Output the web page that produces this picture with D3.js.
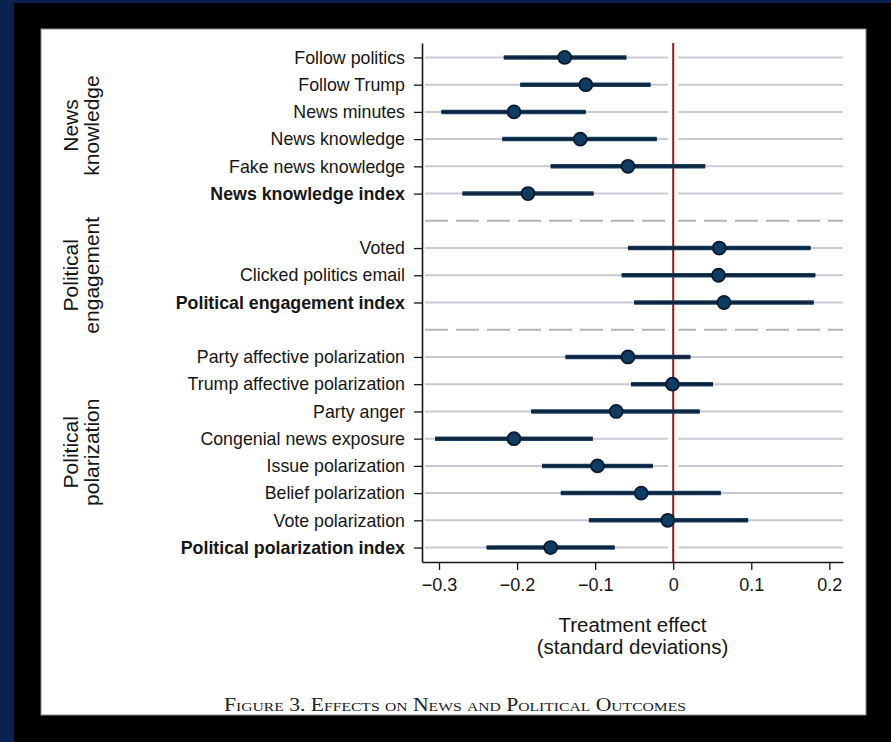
<!DOCTYPE html>
<html>
<head>
<meta charset="utf-8">
<script src="https://cdn.jsdelivr.net/npm/d3@7/dist/d3.min.js"></script>
<style>
  html, body { margin: 0; padding: 0; background: #0b2150; }
  svg { display: block; }
</style>
</head>
<body>
<svg id="chart" width="891" height="742"></svg>
<script>
// Outcome rows, top to bottom; "sep" entries are the dashed group dividers
const rowKeys = [
  "Follow politics", "Follow Trump", "News minutes", "News knowledge",
  "Fake news knowledge", "News knowledge index", "sep1",
  "Voted", "Clicked politics email", "Political engagement index", "sep2",
  "Party affective polarization", "Trump affective polarization", "Party anger",
  "Congenial news exposure", "Issue polarization", "Belief polarization",
  "Vote polarization", "Political polarization index"
];
const outcomes = rowKeys.filter(k => !k.startsWith("sep"));
const indexRows = ["News knowledge index", "Political engagement index", "Political polarization index"];

// Point estimates and 95% confidence bounds (standard deviations)
const estimates = [-0.139, -0.112, -0.204, -0.119, -0.058, -0.186,
                   0.059, 0.058, 0.065,
                   -0.058, -0.001, -0.073, -0.204, -0.097, -0.041, -0.007, -0.157];
const lower = [-0.217, -0.196, -0.297, -0.219, -0.157, -0.270,
               -0.058, -0.066, -0.050,
               -0.138, -0.054, -0.182, -0.305, -0.168, -0.144, -0.108, -0.239];
const upper = [-0.060, -0.029, -0.112, -0.021, 0.041, -0.102,
               0.176, 0.182, 0.180,
               0.022, 0.051, 0.034, -0.103, -0.026, 0.061, 0.096, -0.075];

const xTicks = [-0.3, -0.2, -0.1, 0, 0.1, 0.2];
const xTickLabels = ["\u22120.3", "\u22120.2", "\u22120.1", "0", "0.1", "0.2"];

const groups = [
  { lines: ["News", "knowledge"], first: "Follow politics", last: "News knowledge index" },
  { lines: ["Political", "engagement"], first: "Voted", last: "Political engagement index" },
  { lines: ["Political", "polarization"], first: "Party affective polarization", last: "Political polarization index" }
];
const axisTitle = ["Treatment effect", "(standard deviations)"];
const caption = "Figure 3. Effects on News and Political Outcomes";

const rows = outcomes.map((name, i) => ({ name, est: estimates[i], lo: lower[i], hi: upper[i] }));

const svg = d3.select("#chart");
const sans = "'Liberation Sans', Arial, Helvetica, sans-serif";
const ink = "#161616";

// Page frame: black mat with the white figure panel
svg.append("rect").attr("x", 14).attr("y", 3).attr("width", 877).attr("height", 739).attr("fill", "#000");
svg.append("rect").attr("x", 41).attr("y", 29).attr("width", 825).attr("height", 686)
  .attr("fill", "#fff").attr("stroke", "#8a8a8a").attr("stroke-width", 1);

const plotLeft = 422, plotRight = 843, plotTop = 43, plotBottom = 562;

const x = d3.scaleLinear().domain([-0.3218, 0.2175]).range([plotLeft, plotRight]);
const y = d3.scalePoint().domain(rowKeys).range([plotTop, plotBottom]).padding(0.53);

const g = svg.append("g");

// Light horizontal guides for each outcome
g.selectAll("line.grid").data(outcomes).join("line")
  .attr("class", "grid")
  .attr("x1", plotLeft + 3).attr("x2", plotRight)
  .attr("y1", d => y(d)).attr("y2", d => y(d))
  .attr("stroke", "#c9c9d5").attr("stroke-width", 2);

// Dashed dividers between groups
g.selectAll("line.sep").data(rowKeys.filter(k => k.startsWith("sep"))).join("line")
  .attr("class", "sep")
  .attr("x1", plotLeft + 3).attr("x2", plotRight)
  .attr("y1", d => y(d)).attr("y2", d => y(d))
  .attr("stroke", "#b4b4b4").attr("stroke-width", 2)
  .attr("stroke-dasharray", "23,8");

// White clearance around the zero reference line
g.append("line")
  .attr("x1", x(0)).attr("x2", x(0)).attr("y1", plotTop).attr("y2", plotBottom)
  .attr("stroke", "#fff").attr("stroke-width", 10);

// Zero reference line
g.append("line")
  .attr("x1", x(0)).attr("x2", x(0)).attr("y1", plotTop).attr("y2", plotBottom)
  .attr("stroke", "#8e1b1f").attr("stroke-width", 2);

// Confidence intervals
g.selectAll("line.ci").data(rows).join("line")
  .attr("class", "ci")
  .attr("x1", d => x(d.lo)).attr("x2", d => x(d.hi))
  .attr("y1", d => y(d.name)).attr("y2", d => y(d.name))
  .attr("stroke", "#1a4068").attr("stroke-width", 4.5);
g.selectAll("line.cicore").data(rows).join("line")
  .attr("class", "cicore")
  .attr("x1", d => x(d.lo)).attr("x2", d => x(d.hi))
  .attr("y1", d => y(d.name)).attr("y2", d => y(d.name))
  .attr("stroke", "#0e2238").attr("stroke-width", 2.4);

// Point estimates
g.selectAll("circle.pt").data(rows).join("circle")
  .attr("class", "pt")
  .attr("cx", d => x(d.est)).attr("cy", d => y(d.name))
  .attr("r", 6.5)
  .attr("fill", "#0f3c63").attr("stroke", "#081b2e").attr("stroke-width", 1.8);

// Y axis with outcome labels
const yAxis = g.append("g").attr("transform", `translate(${plotLeft},0)`)
  .call(d3.axisLeft(y).tickValues(outcomes).tickSize(8).tickPadding(9).tickSizeOuter(0));
yAxis.select(".domain").attr("stroke", ink).attr("stroke-width", 1.6);
yAxis.selectAll(".tick line").attr("stroke", ink).attr("stroke-width", 1.3);
yAxis.selectAll(".tick text")
  .attr("font-family", sans).attr("font-size", 17.8).attr("fill", ink)
  .attr("font-weight", d => indexRows.includes(d) ? "bold" : "normal");

// X axis
const xAxis = g.append("g").attr("transform", `translate(0,${plotBottom})`)
  .call(d3.axisBottom(x).tickValues(xTicks).tickFormat((d, i) => xTickLabels[i])
    .tickSize(8).tickPadding(8).tickSizeOuter(0));
xAxis.select(".domain").attr("stroke", ink).attr("stroke-width", 1.6);
xAxis.selectAll(".tick line").attr("stroke", ink).attr("stroke-width", 1.3);
xAxis.selectAll(".tick text").attr("font-family", sans).attr("font-size", 18).attr("fill", ink);

// Axis title
const cx = (plotLeft + plotRight) / 2;
svg.append("text").attr("x", cx).attr("y", 632)
  .attr("text-anchor", "middle").attr("font-family", sans).attr("font-size", 20.5).attr("fill", ink)
  .selectAll("tspan").data(axisTitle).join("tspan")
  .attr("x", cx).attr("dy", (d, i) => i === 0 ? 0 : 22).text(d => d);

// Rotated group labels
groups.forEach(gr => {
  const cy = (y(gr.first) + y(gr.last)) / 2;
  const t = svg.append("text")
    .attr("transform", `translate(78,${cy}) rotate(-90)`)
    .attr("text-anchor", "middle").attr("font-family", sans).attr("font-size", 21).attr("fill", ink);
  t.selectAll("tspan").data(gr.lines).join("tspan")
    .attr("x", 0).attr("dy", (d, i) => i === 0 ? 0 : 21).text(d => d);
});

// Figure caption
svg.append("text").attr("x", 455).attr("y", 711)
  .attr("text-anchor", "middle")
  .attr("font-family", "'Liberation Serif', 'Times New Roman', serif")
  .attr("font-size", 18).attr("font-variant", "small-caps").attr("fill", "#222")
  .attr("textLength", 462).attr("lengthAdjust", "spacingAndGlyphs")
  .text(caption);
</script>
</body>
</html>
